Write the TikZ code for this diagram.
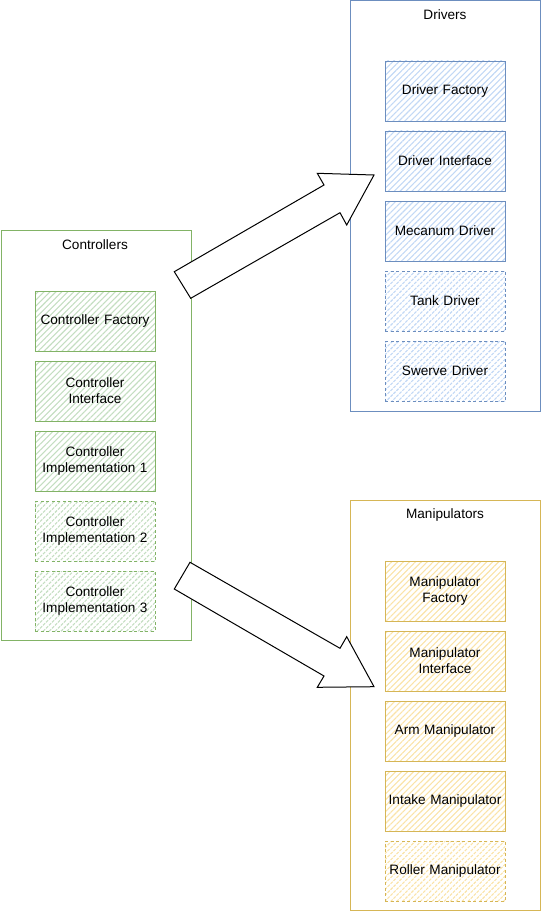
\documentclass[tikz,border=0pt]{standalone}
\usepackage{fontspec}
\setmainfont{Liberation Sans}
\usetikzlibrary{patterns.meta}
\definecolor{gstroke}{HTML}{82B366}
\definecolor{gfill}{HTML}{C4DEC1}
\definecolor{bstroke}{HTML}{6C8EBF}
\definecolor{bfill}{HTML}{C2D8F5}
\definecolor{ystroke}{HTML}{D6B656}
\definecolor{yfill}{HTML}{FAE3A8}
\tikzset{
  container/.style={draw, line width=0.9pt, minimum width=190pt, minimum height=410pt, anchor=north west, inner sep=0pt},
  hatch/.style={pattern={Lines[angle=45,distance=4.2pt,line width=1.1pt]}, pattern color=#1},
  compbox/.style={draw, line width=0.9pt, minimum width=120pt, minimum height=60pt, text width=118pt, align=center, inner sep=0pt,
    font=\fontsize{13.6}{16}\selectfont},
  gbox/.style={compbox, draw=gstroke, hatch=gfill},
  bbox/.style={compbox, draw=bstroke, hatch=bfill},
  ybox/.style={compbox, draw=ystroke, hatch=yfill},
  opt/.style={dash pattern=on 3pt off 2.5pt},
  ctitle/.style={font=\fontsize{13.6}{16}\selectfont, inner sep=0pt},
  blockarrow/.style={draw=black, fill=white, line width=1pt, line join=miter},
}
\begin{document}
\begin{tikzpicture}[x=1pt,y=-1pt]
\useasboundingbox (0,0) rectangle (542,912);
% Controllers
\node[container, draw=gstroke] (ctrl) at (0.5,230) {};
\node[ctitle] (ctrlt) at (95,245) {Controllers};
\node[gbox] (c1) at (95,321) {Controller Factory};
\node[gbox] (c2) at (95,391) {Controller\\Interface};
\node[gbox] (c3) at (95,461) {Controller\\Implementation 1};
\node[gbox,opt] (c4) at (95,531) {Controller\\Implementation 2};
\node[gbox,opt] (c5) at (95,601) {Controller\\Implementation 3};
% Drivers
\node[container, draw=bstroke] (drv) at (350,0.5) {};
\node[ctitle] (drvt) at (445,15) {Drivers};
\node[bbox] (d1) at (445,91) {Driver Factory};
\node[bbox] (d2) at (445,161) {Driver Interface};
\node[bbox] (d3) at (445,231) {Mecanum Driver};
\node[bbox,opt] (d4) at (445,301) {Tank Driver};
\node[bbox,opt] (d5) at (445,371) {Swerve Driver};
% Manipulators
\node[container, draw=ystroke] (man) at (350,500) {};
\node[ctitle] (mant) at (445,515) {Manipulators};
\node[ybox] (m1) at (445,591) {Manipulator\\Factory};
\node[ybox] (m2) at (445,661) {Manipulator\\Interface};
\node[ybox] (m3) at (445,731) {Arm Manipulator};
\node[ybox] (m4) at (445,801) {Intake Manipulator};
\node[ybox,opt] (m5) at (445,871) {Roller Manipulator};
% Block arrows
\draw[blockarrow] (174.3,271.7) -- (324,185) -- (317.3,173.3) -- (374,175) -- (346.7,225) -- (340,212.7) -- (190.7,298.3) -- cycle;
\draw[blockarrow] (190,562.3) -- (340,648.3) -- (346.7,636.7) -- (374,686.7) -- (317.3,687.3) -- (324,676) -- (174.3,589) -- cycle;
\end{tikzpicture}
\end{document}
